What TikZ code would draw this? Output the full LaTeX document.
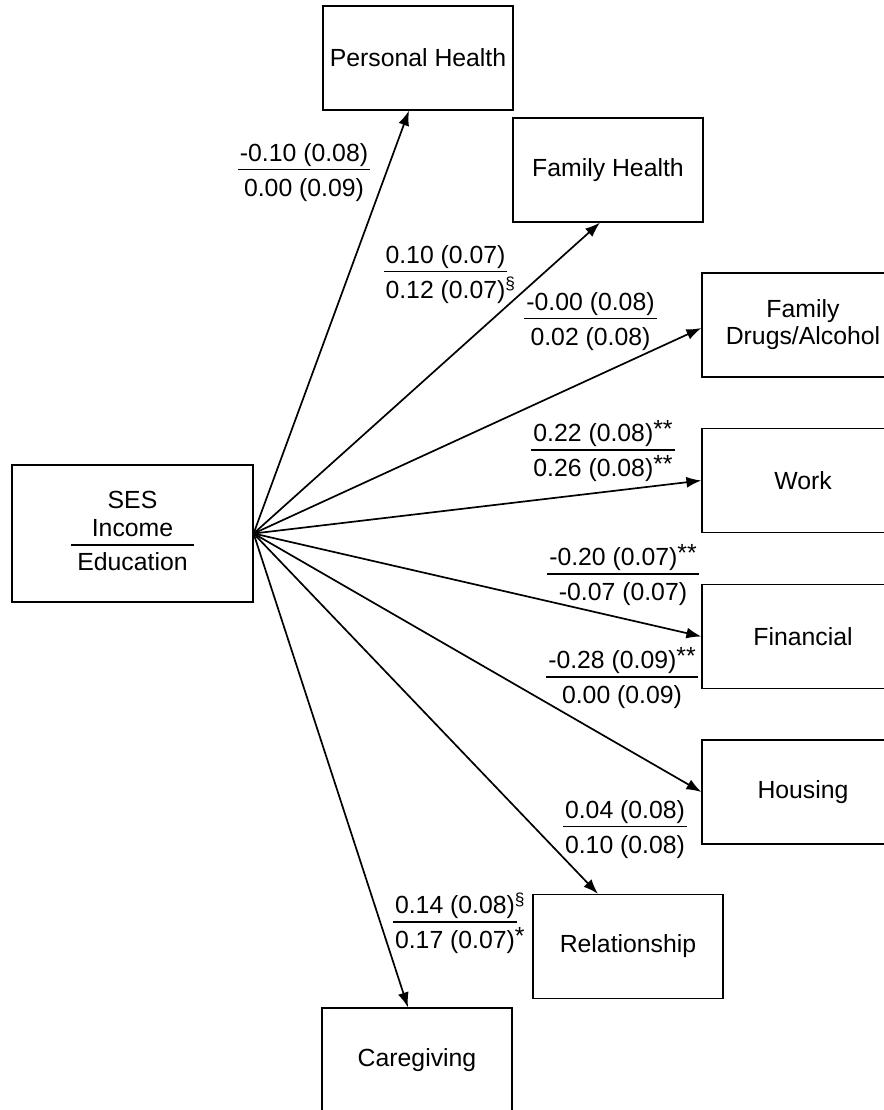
\documentclass[tikz,border=0pt]{standalone}
\usepackage{fontspec}
\setmainfont{Liberation Sans}
\usetikzlibrary{arrows.meta,calc}
\setlength{\arrayrulewidth}{0.7pt}
\tikzset{
  block/.style  = {draw, line width=0.6pt, rectangle, minimum width=95pt,
                   minimum height=52pt, align=center, inner sep=0pt,
                   font=\fontsize{12.4}{14.4}\selectfont},
  wide/.style   = {minimum width=101pt},
  weight/.style = {inner sep=0pt, font=\fontsize{12.4}{14.4}\selectfont},
  link/.style   = {-{Latex[length=7.5pt,width=5.5pt]}, line width=0.85pt},
}
\newcommand{\coef}[2]{\begin{tabular}{@{\hspace{1pt}}c@{\hspace{1pt}}}#1\\[-0.6pt]\hline\rule{0pt}{13.1pt}#2\end{tabular}}
\newcommand{\sg}[1]{\raisebox{2pt}{#1}}

\begin{document}
\begin{tikzpicture}[x=0.5pt, y=-0.5pt]
\clip (0,0) rectangle (884,1110);
% ---- predictor ----
\node[block, minimum width=120.5pt, minimum height=68.5pt] (ses) at (132.5,533.5)
  {\begin{tabular}{@{\hspace{3pt}}c@{\hspace{3pt}}}SES\\Income\\[-0.6pt]\hline\rule{0pt}{12.3pt}Education\end{tabular}};
% ---- outcomes ----
\node[block] (ph) at (418,58) {Personal Health};
\node[block] (fh) at (608,170) {Family Health};
\node[block, wide] (fda) at (803,325) {Family\\[-0.9pt]Drugs/Alcohol};
\node[block, wide] (work) at (803,480.5) {Work};
\node[block, wide] (fin) at (803,636.5) {Financial};
\node[block, wide] (hous) at (803,792) {Housing};
\node[block] (rel) at (628,946.5) {Relationship};
\node[block] (care) at (417,1060) {Caregiving};

\draw[link] (ses.east) -- ($(ph.south)+(-9,0)$);
\draw[link] (ses.east) -- ($(fh.south)+(-8,0)$);
\draw[link] (ses.east) -- ($(fda.west)+(0,3)$);
\draw[link] (ses.east) -- (work.west);
\draw[link] (ses.east) -- (fin.west);
\draw[link] (ses.east) -- (hous.west);
\draw[link] (ses.east) -- ($(rel.north)+(-30,0)$);
\draw[link] (ses.east) -- ($(care.north)+(-9,0)$);

% ---- path weights ----
\node[weight] (wph) at (304,173) {\coef{-0.10 (0.08)}{0.00 (0.09)}};
\node[weight] (wfh) at (445.5,275) {\coef{0.10 (0.07)}{0.12 (0.07)\rlap{\textsuperscript{\S}}}};
\node[weight] (wfda) at (590.5,322) {\coef{-0.00 (0.08)}{0.02 (0.08)}};
\node[weight] (wwork) at (603,453) {\coef{0.22 (0.08)\sg{**}}{0.26 (0.08)\sg{**}}};
\node[weight] (wfin) at (623,577) {\coef{-0.20 (0.07)\sg{**}}{-0.07 (0.07)}};
\node[weight] (whous) at (622,680) {\coef{-0.28 (0.09)\sg{**}}{0.00 (0.09)}};
\node[weight] (wrel) at (625,830) {\coef{0.04 (0.08)}{0.10 (0.08)}};
\node[weight] (wcare) at (455,925) {\coef{0.14 (0.08)\rlap{\textsuperscript{\S}}}{0.17 (0.07)\rlap{\sg{*}}}};
\end{tikzpicture}
\end{document}
